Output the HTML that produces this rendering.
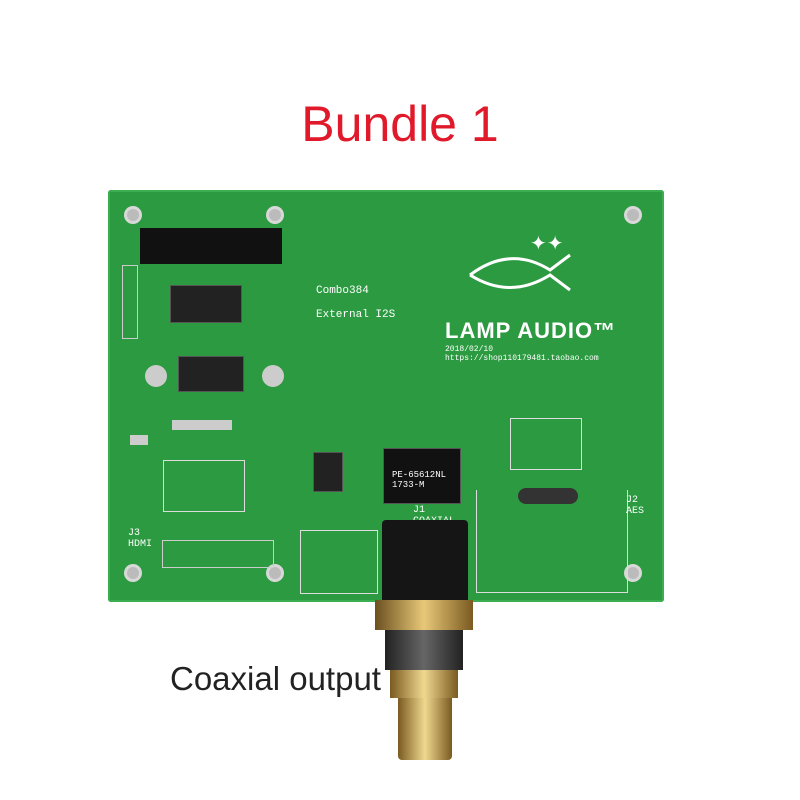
<!DOCTYPE html>
<html><head><style>
body{margin:0;width:800px;height:800px;background:#fff;position:relative;overflow:hidden;font-family:"Liberation Sans",sans-serif}
.a{position:absolute}
.t{color:#fff;font-family:"Liberation Mono",monospace;font-size:10px}
.hole{position:absolute;width:18px;height:18px;border-radius:50%;background:#bbb;border:3px solid #d8d8d8;box-sizing:border-box}
.chip{position:absolute;background:#222;border:1px solid #555}
</style></head><body>
<div class="a" style="left:0;top:95px;width:800px;text-align:center;color:#e01a2a;font-size:50px">Bundle 1</div>
<div class="a" style="left:108px;top:190px;width:556px;height:412px;background:#2b9a40;border-radius:3px;box-shadow:inset 0 0 0 2px #3aae50"></div>
<div class="hole" style="left:124px;top:206px"></div>
<div class="hole" style="left:266px;top:206px"></div>
<div class="hole" style="left:624px;top:206px"></div>
<div class="hole" style="left:124px;top:564px"></div>
<div class="hole" style="left:266px;top:564px"></div>
<div class="hole" style="left:624px;top:564px"></div>
<div class="a" style="left:140px;top:228px;width:142px;height:36px;background:#111"></div>
<div class="a" style="left:122px;top:265px;width:14px;height:72px;border:1px solid #ccc"></div>
<div class="chip" style="left:170px;top:285px;width:70px;height:36px"></div>
<div class="chip" style="left:178px;top:356px;width:64px;height:34px"></div>
<div class="a" style="left:145px;top:365px;width:22px;height:22px;border-radius:50%;background:#ccc"></div>
<div class="a" style="left:262px;top:365px;width:22px;height:22px;border-radius:50%;background:#ccc"></div>
<div class="a" style="left:130px;top:435px;width:18px;height:10px;background:#ccc"></div>
<div class="a" style="left:172px;top:420px;width:60px;height:10px;background:#ccc"></div>
<div class="a" style="left:163px;top:460px;width:80px;height:50px;border:1px solid #ddd"></div>
<div class="a" style="left:162px;top:540px;width:110px;height:26px;border:1px solid #ccc"></div>
<div class="chip" style="left:313px;top:452px;width:28px;height:38px"></div>
<div class="chip" style="left:383px;top:448px;width:76px;height:54px;background:#111"></div>
<div class="a t" style="left:392px;top:470px;font-size:9px">PE-65612NL<br>1733-M</div>
<div class="a" style="left:510px;top:418px;width:70px;height:50px;border:1px solid #ddd"></div>
<div class="a" style="left:476px;top:490px;width:150px;height:102px;border:1px solid #ddd;border-top:none"></div>
<div class="a" style="left:518px;top:488px;width:60px;height:16px;background:#333;border-radius:8px"></div>
<div class="a" style="left:300px;top:530px;width:76px;height:62px;border:1px solid #ddd"></div>
<div class="a t" style="left:316px;top:285px;font-size:11px">Combo384<br><br>External I2S</div>
<div class="a" style="left:445px;top:318px;color:#fff;font-size:22px;font-weight:bold;letter-spacing:1px">LAMP AUDIO™</div>
<div class="a t" style="left:445px;top:345px;font-size:8px">2018/02/10<br>https://shop110179481.taobao.com</div>
<svg class="a" style="left:460px;top:225px" width="120" height="80"><path d="M10 50 Q50 20 90 45 L110 30 M10 50 Q50 75 90 50 L110 65" stroke="#fff" stroke-width="3" fill="none"/><text x="70" y="25" fill="#fff" font-size="20">✦✦</text></svg>
<div class="a t" style="left:128px;top:528px">J3<br>HDMI</div>
<div class="a t" style="left:626px;top:495px">J2<br>AES</div>
<div class="a t" style="left:413px;top:505px">J1<br>COAXIAL</div>
<div class="a" style="left:382px;top:520px;width:86px;height:90px;background:#151515;border-radius:4px"></div>
<div class="a" style="left:375px;top:600px;width:98px;height:30px;background:linear-gradient(90deg,#6a5020,#e8c878,#7a5a20)"></div>
<div class="a" style="left:385px;top:630px;width:78px;height:40px;background:linear-gradient(90deg,#222,#666,#222)"></div>
<div class="a" style="left:390px;top:670px;width:68px;height:28px;background:linear-gradient(90deg,#7a5a20,#f0d890,#7a5a20)"></div>
<div class="a" style="left:398px;top:698px;width:54px;height:62px;background:linear-gradient(90deg,#7a5a20,#f0d890,#7a5a20);border-radius:0 0 4px 4px"></div>
<div class="a" style="left:170px;top:660px;font-size:33px;color:#222">Coaxial output</div>
</body></html>
